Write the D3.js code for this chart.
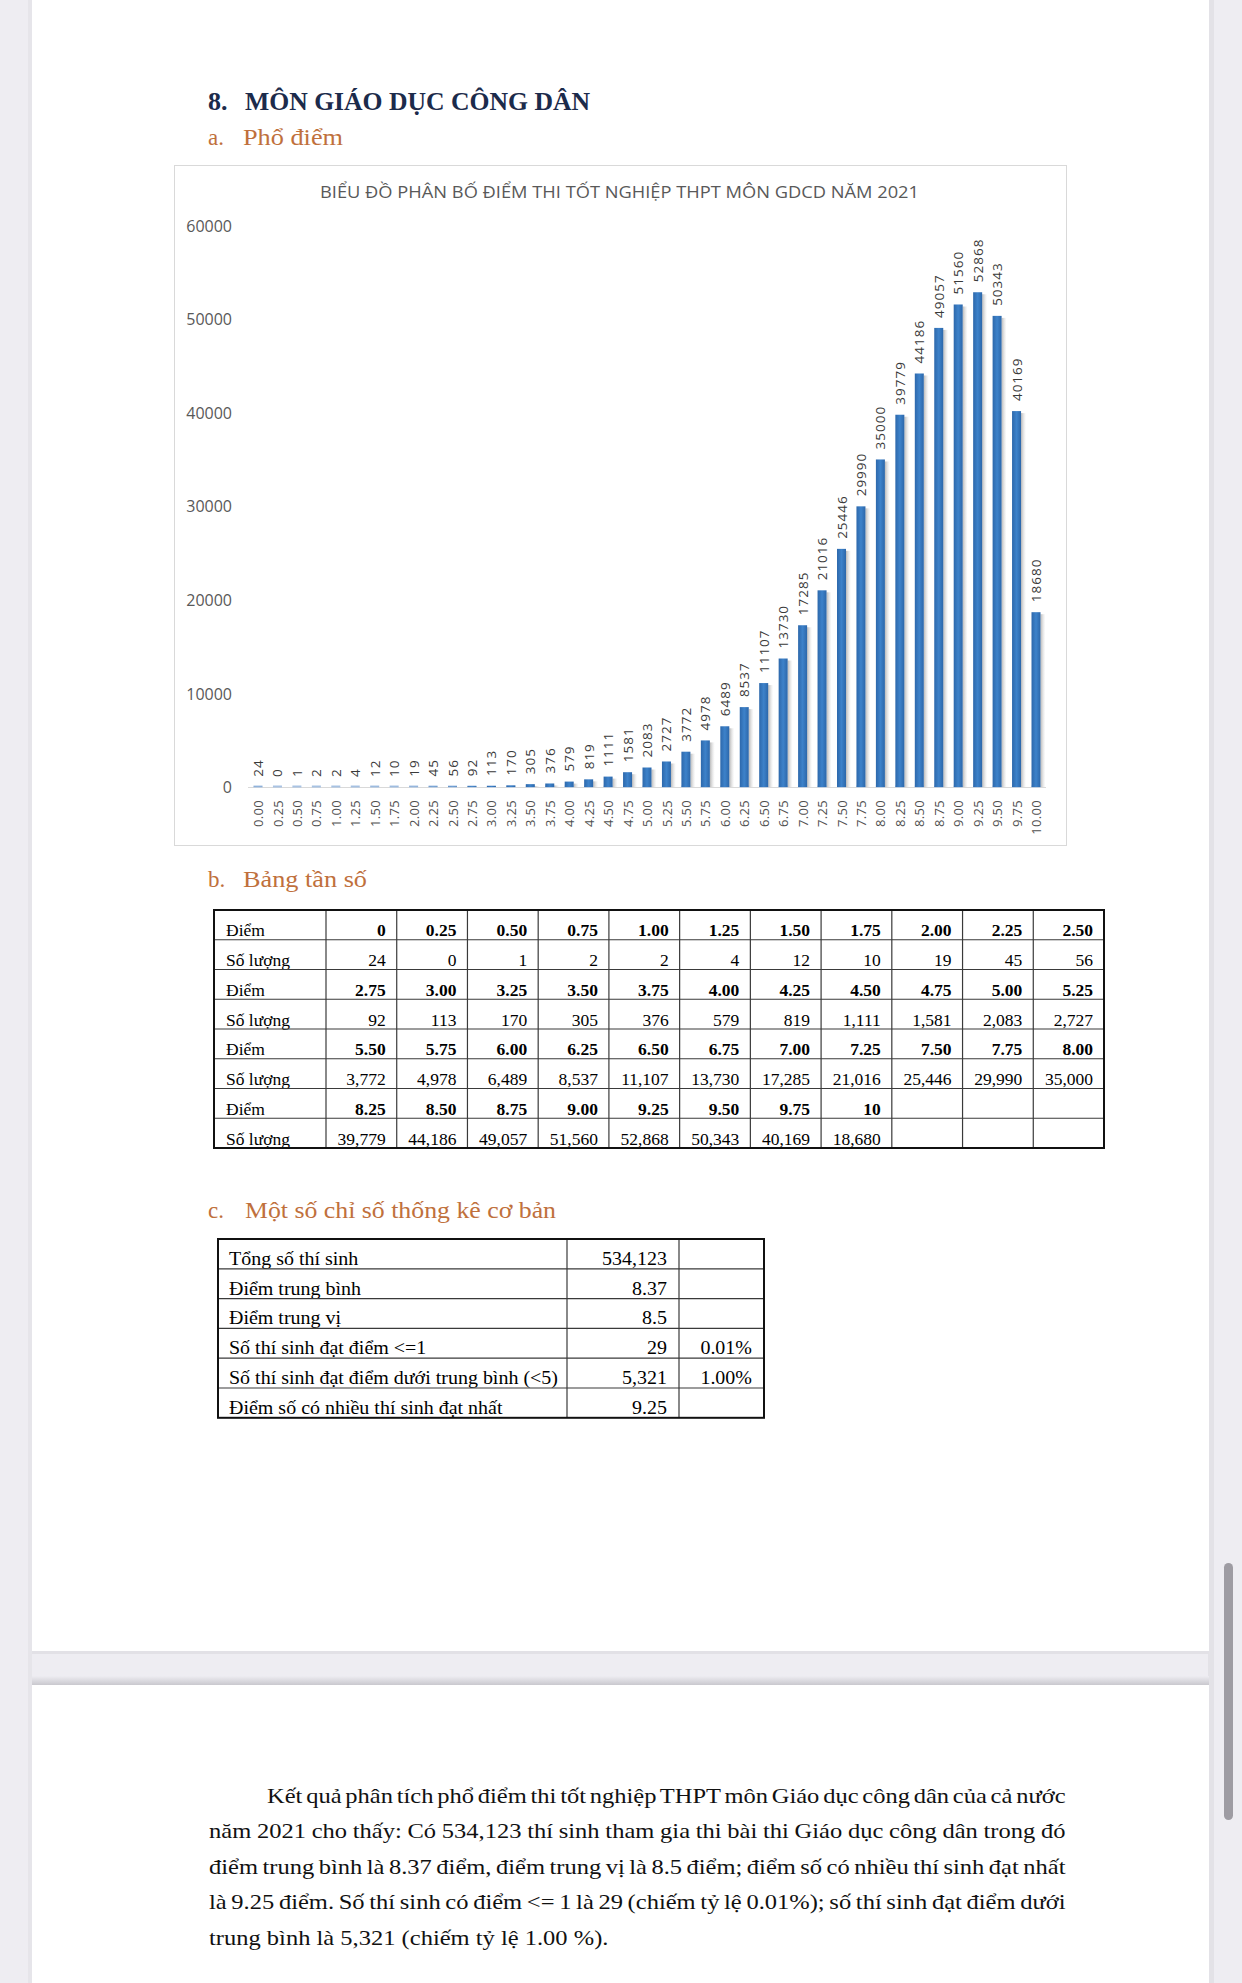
<!DOCTYPE html>
<html><head><meta charset="utf-8">
<script src="https://cdn.jsdelivr.net/npm/d3@7"></script>
<style>body{margin:0;background:#eeedf2}svg{display:block}</style>
</head><body><svg id="c" width="1242" height="1983"></svg>
<script>
// ---------- DATA ----------
const scoreLabels = ["0.00","0.25","0.50","0.75","1.00","1.25","1.50","1.75","2.00","2.25","2.50","2.75","3.00","3.25","3.50","3.75","4.00","4.25","4.50","4.75","5.00","5.25","5.50","5.75","6.00","6.25","6.50","6.75","7.00","7.25","7.50","7.75","8.00","8.25","8.50","8.75","9.00","9.25","9.50","9.75","10.00"];
const counts = [24,0,1,2,2,4,12,10,19,45,56,92,113,170,305,376,579,819,1111,1581,2083,2727,3772,4978,6489,8537,11107,13730,17285,21016,25446,29990,35000,39779,44186,49057,51560,52868,50343,40169,18680];
const yTicks = [0,10000,20000,30000,40000,50000,60000];
const tableScoreLabels = ["0","0.25","0.50","0.75","1.00","1.25","1.50","1.75","2.00","2.25","2.50","2.75","3.00","3.25","3.50","3.75","4.00","4.25","4.50","4.75","5.00","5.25","5.50","5.75","6.00","6.25","6.50","6.75","7.00","7.25","7.50","7.75","8.00","8.25","8.50","8.75","9.00","9.25","9.50","9.75","10"];
const statLabels = ["Tổng số thí sinh","Điểm trung bình","Điểm trung vị","Số thí sinh đạt điểm <=1","Số thí sinh đạt điểm dưới trung bình (<5)","Điểm số có nhiều thí sinh đạt nhất"];
const statValues = ["534,123","8.37","8.5","29","5,321","9.25"];
const statPcts = ["","","","0.01%","1.00%",""];
const paragraphLines = [
 "Kết quả phân tích phổ điểm thi tốt nghiệp THPT môn Giáo dục công dân của cả nước",
 "năm 2021 cho thấy: Có 534,123 thí sinh tham gia thi bài thi Giáo dục công dân trong đó",
 "điểm trung bình là 8.37 điểm, điểm trung vị là 8.5 điểm; điểm số có nhiều thí sinh đạt nhất",
 "là 9.25 điểm. Số thí sinh có điểm <= 1 là 29 (chiếm tỷ lệ 0.01%); số thí sinh đạt điểm dưới",
 "trung bình là 5,321 (chiếm tỷ lệ 1.00 %)."
];
const chartTitle = "BIỂU ĐỒ PHÂN BỐ ĐIỂM THI TỐT NGHIỆP THPT MÔN GDCD NĂM 2021";

// ---------- DRAW ----------
const svg = d3.select("#c");
const defs = svg.append("defs");
const g1 = defs.append("linearGradient").attr("id","barG").attr("x1","0").attr("x2","1").attr("y1","0").attr("y2","0");
g1.append("stop").attr("offset","0").attr("stop-color","#2d68ab");
g1.append("stop").attr("offset","0.5").attr("stop-color","#3d82ca");
g1.append("stop").attr("offset","1").attr("stop-color","#2c67aa");
const g2 = defs.append("linearGradient").attr("id","shG").attr("x1","0").attr("x2","1");
g2.append("stop").attr("offset","0").attr("stop-color","#9a9a9a").attr("stop-opacity",0.7);
g2.append("stop").attr("offset","1").attr("stop-color","#cccccc").attr("stop-opacity",0);
const g3 = defs.append("linearGradient").attr("id","topSh").attr("x1","0").attr("x2","0").attr("y1","0").attr("y2","1");
g3.append("stop").attr("offset","0").attr("stop-color","#eeedf2");
g3.append("stop").attr("offset","1").attr("stop-color","#c9c8ce");

// background & pages
svg.append("rect").attr("width",1242).attr("height",1983).attr("fill","#eeedf2");
svg.append("rect").attr("x",1208).attr("y",0).attr("width",6).attr("height",1983).attr("fill","#e3e2e7");
svg.append("rect").attr("x",28).attr("y",0).attr("width",4).attr("height",1983).attr("fill","#e6e5ea");
svg.append("rect").attr("x",32).attr("y",-5).attr("width",1177).attr("height",1656).attr("fill","#ffffff");
svg.append("rect").attr("x",32).attr("y",1651).attr("width",1177).attr("height",3).attr("fill","#e2e1e6");
svg.append("rect").attr("x",32).attr("y",1676).attr("width",1177).attr("height",9).attr("fill","url(#topSh)");
svg.append("rect").attr("x",32).attr("y",1685).attr("width",1177).attr("height",310).attr("fill","#ffffff");
svg.append("rect").attr("x",1224).attr("y",1563).attr("width",9).attr("height",257).attr("rx",4.5).attr("fill","#9e9ca3");

// headings
const serif = "'Liberation Serif','Times New Roman',serif";
svg.append("text").attr("x",208).attr("y",110).attr("font-family",serif).attr("font-weight","bold").attr("font-size",26).attr("fill","#1c2b4b").text("8.");
svg.append("text").attr("x",245).attr("y",110).attr("font-family",serif).attr("font-weight","bold").attr("font-size",26).attr("fill","#1c2b4b")
  .attr("textLength",345).attr("lengthAdjust","spacingAndGlyphs").text("MÔN GIÁO DỤC CÔNG DÂN");
const orange = "#c0703c";
function heading(letter, txt, y, x2, w){
  svg.append("text").attr("x",208).attr("y",y).attr("font-family",serif).attr("font-size",23).attr("fill",orange).text(letter);
  svg.append("text").attr("x",x2).attr("y",y).attr("font-family",serif).attr("font-size",23).attr("fill",orange)
     .attr("textLength",w).attr("lengthAdjust","spacingAndGlyphs").text(txt);
}
heading("a.","Phổ điểm",145,243,100);
heading("b.","Bảng tần số",887,243,124);
heading("c.","Một số chỉ số thống kê cơ bản",1218,245,311);

// chart frame
svg.append("rect").attr("x",174.5).attr("y",165.5).attr("width",892).attr("height",680).attr("fill","#fff").attr("stroke","#d9d9d9");
const sans = "'Open Sans',sans-serif";
svg.append("text").attr("x",619.5).attr("y",198).attr("text-anchor","middle").attr("font-family",sans).attr("font-size",16)
  .attr("fill","#595959").attr("textLength",599).attr("lengthAdjust","spacingAndGlyphs").text(chartTitle);

const y = d3.scaleLinear().domain([0,60000]).range([787,225.5]);
const x = d3.scalePoint().domain(scoreLabels).range([258,1036]);
const bw = 9;

// y axis labels
const yAxis = d3.axisLeft(y).tickValues(yTicks).tickSize(0).tickPadding(0).tickFormat(d3.format("d"));
const ya = svg.append("g").attr("transform","translate(232,0)").call(yAxis);
ya.select(".domain").remove();
ya.selectAll("text").attr("font-family",sans).attr("font-size",16).attr("fill","#595959").attr("dy","0.35em");

// baseline
svg.append("line").attr("x1",248).attr("x2",1046).attr("y1",787.5).attr("y2",787.5).attr("stroke","#d9d9d9");

const bars = svg.append("g");
scoreLabels.forEach((s,i)=>{
  const v = counts[i];
  const cx = x(s);
  const top = y(v);
  const h = Math.max(0, y(0)-top);
  bars.append("rect").attr("x",cx+bw/2).attr("y",top+2).attr("width",5).attr("height",Math.max(h-2,0)).attr("fill","url(#shG)");
  bars.append("rect").attr("x",cx-bw/2).attr("y",785.5).attr("width",bw).attr("height",2).attr("fill","#a9c3e3");
  bars.append("rect").attr("x",cx-bw/2).attr("y",top).attr("width",bw).attr("height",h).attr("fill","url(#barG)");
  svg.append("text").attr("transform",`translate(${cx},${top-10}) rotate(-90)`)
     .attr("dominant-baseline","central").attr("font-family",sans).attr("font-size",13.5).attr("letter-spacing",1)
     .attr("fill","#3a3a3a").text(d3.format("d")(v));
});

// x axis labels
const xAxis = d3.axisBottom(x).tickSize(0).tickPadding(0);
const xa = svg.append("g").attr("transform","translate(0,800)").call(xAxis);
xa.select(".domain").remove();
xa.selectAll("text").attr("transform","rotate(-90)").attr("text-anchor","end").attr("dy","0.35em").attr("x",0).attr("y",0)
  .attr("font-family",sans).attr("font-size",13).attr("letter-spacing",0.3).attr("fill","#505050");

// ---------- TABLE b ----------
const tX0 = 214, tY0 = 910, firstW = 112, colW = (1104-326)/11, rowH = 29.75;
const tb = svg.append("g");
const nGroups = 4;
for(let gi=0; gi<nGroups; gi++){
  const r1 = tY0 + gi*2*rowH, r2 = r1+rowH;
  tb.append("text").attr("x",tX0+12).attr("y",r1+rowH-3.5).attr("font-family",serif).attr("font-size",17.5).attr("fill","#000").text("Điểm");
  tb.append("text").attr("x",tX0+12).attr("y",r2+rowH-3.5).attr("font-family",serif).attr("font-size",17.5).attr("fill","#000").text("Số lượng");
  for(let c=0;c<11;c++){
    const idx = gi*11+c;
    if(idx>=counts.length) break;
    const xr = tX0+firstW+(c+1)*colW - 11;
    tb.append("text").attr("x",xr).attr("y",r1+rowH-3.5).attr("text-anchor","end").attr("font-family",serif).attr("font-weight","bold").attr("font-size",17.5).text(tableScoreLabels[idx]);
    tb.append("text").attr("x",xr).attr("y",r2+rowH-3.5).attr("text-anchor","end").attr("font-family",serif).attr("font-size",17.5).text(d3.format(",")(counts[idx]));
  }
}
for(let r=1;r<8;r++) tb.append("line").attr("x1",tX0).attr("x2",1104).attr("y1",tY0+r*rowH).attr("y2",tY0+r*rowH).attr("stroke","#3a3a3a").attr("stroke-width",1.2);
for(let c=0;c<=11;c++){ const xx = tX0+firstW+c*colW; tb.append("line").attr("x1",xx).attr("x2",xx).attr("y1",tY0).attr("y2",tY0+8*rowH).attr("stroke","#3a3a3a").attr("stroke-width",1.2); }
tb.append("rect").attr("x",tX0).attr("y",tY0).attr("width",1104-tX0).attr("height",8*rowH).attr("fill","none").attr("stroke","#111").attr("stroke-width",2);

// ---------- TABLE c ----------
const sX = [218,567,679,764], sY0 = 1239, sRowH = 29.8;
const st = svg.append("g");
const sk = 1.08;
statLabels.forEach((lab,i)=>{
  const yb = sY0+(i+1)*sRowH-4;
  st.append("text").attr("transform",`translate(${sX[0]+11},${yb}) scale(${sk},1)`).attr("font-family",serif).attr("font-size",18.5).text(lab);
  st.append("text").attr("transform",`translate(${sX[2]-12},${yb}) scale(${sk},1)`).attr("text-anchor","end").attr("font-family",serif).attr("font-size",18.5).text(statValues[i]);
  st.append("text").attr("transform",`translate(${sX[3]-12},${yb}) scale(${sk},1)`).attr("text-anchor","end").attr("font-family",serif).attr("font-size",18.5).text(statPcts[i]);
});
for(let r=1;r<statLabels.length;r++) st.append("line").attr("x1",sX[0]).attr("x2",sX[3]).attr("y1",sY0+r*sRowH).attr("y2",sY0+r*sRowH).attr("stroke","#3a3a3a").attr("stroke-width",1.2);
[sX[1],sX[2]].forEach(xx=>st.append("line").attr("x1",xx).attr("x2",xx).attr("y1",sY0).attr("y2",sY0+6*sRowH).attr("stroke","#3a3a3a").attr("stroke-width",1.2));
st.append("rect").attr("x",sX[0]).attr("y",sY0).attr("width",sX[3]-sX[0]).attr("height",6*sRowH).attr("fill","none").attr("stroke","#111").attr("stroke-width",2);

// ---------- paragraph ----------
const pY0 = 1803, pStep = 35.4, pRight = 1066;
const pts = paragraphLines.map((ln,i)=>{
  const xs = i===0 ? 267 : 209;
  const t = svg.append("text").attr("x",0).attr("y",0).attr("font-family",serif).attr("font-size",21).attr("fill","#111").text(ln);
  return {t, xs, ln, nat: t.node().getComputedTextLength()};
});
let k = 1.25;
pts.slice(0,-1).forEach(p=>{ k = Math.min(k, (pRight-p.xs)/(p.nat*1.0)); });
k *= 1.05;
pts.forEach((p,i)=>{
  p.t.attr("transform",`translate(${p.xs},${pY0+i*pStep}) scale(${k},1)`);
  if(i<pts.length-1){
    const spaces = (p.ln.match(/ /g)||[]).length;
    const extra = (pRight-p.xs)/k - p.nat;
    p.t.attr("word-spacing", extra/spaces);
  }
});
</script></body></html>
